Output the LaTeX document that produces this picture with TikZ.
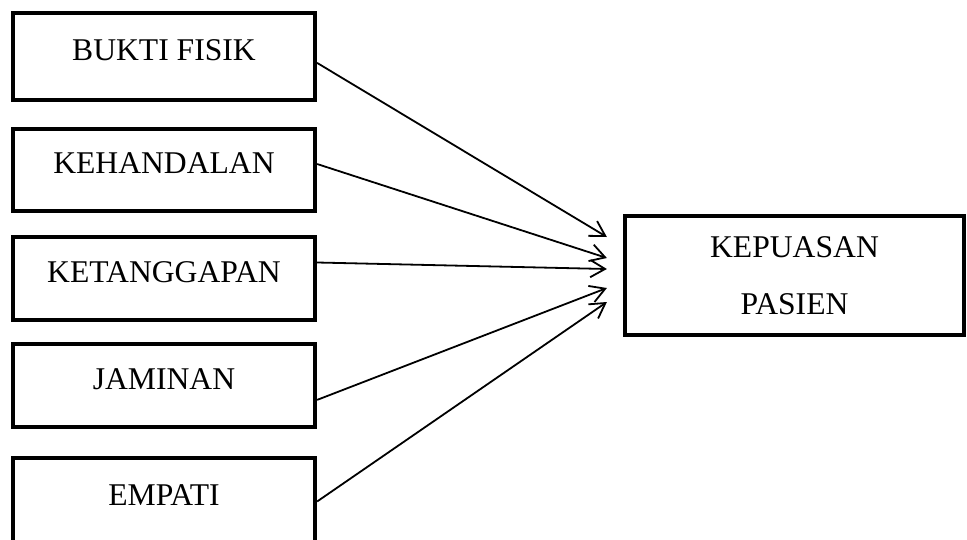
\documentclass[tikz,border=0pt]{standalone}
\usepackage{fontspec}
\setmainfont{Liberation Serif}
\usetikzlibrary{arrows.meta,positioning}

\begin{document}
\begin{tikzpicture}[x=0.25mm,y=-0.25mm,
                factor/.style={draw=black, line width=1.05mm, minimum width=302*0.25mm,
                    text height=4mm, text depth=2.25mm, inner sep=0pt,
                    font=\fontsize{22.5}{27}\selectfont},
                hasil/.style={factor, minimum width=339*0.25mm, minimum height=119*0.25mm,
                    align=center, text height=, text depth=},
                pengaruh/.style={black, line width=0.45mm,
                    -{Straight Barb[length=3.7mm,width=4.3mm,line width=0.45mm]}}]
                \useasboundingbox (0,0) rectangle (967,539);
                % variabel bebas
                \node [factor, minimum height=87*0.25mm] (fisik) at (164,56.5) {BUKTI FISIK};
                \node [factor, minimum height=82*0.25mm] (handal) at (164,170) {KEHANDALAN};
                \node [factor, minimum height=83*0.25mm] (tanggap) at (164,278.5) {KETANGGAPAN};
                \node [factor, minimum height=83*0.25mm] (jamin) at (164,385.5) {JAMINAN};
                \node [factor, minimum height=87*0.25mm] (empati) at (164,501.5) {EMPATI};
                % variabel terikat
                \node [hasil] (puas) at (794.5,275.5) {KEPUASAN\\[4.6mm]PASIEN};
                \coordinate (t1) at ([shift={(-16,-38.5)}]puas.west);
                \coordinate (t2) at ([shift={(-16,-17.5)}]puas.west);
                \coordinate (t3) at ([shift={(-16,-6.5)}]puas.west);
                \coordinate (t4) at ([shift={(-16,12.5)}]puas.west);
                \coordinate (t5) at ([shift={(-16,26.5)}]puas.west);
                \draw [pengaruh] ([yshift=-1.6mm]fisik.east) -- (t1);
                \draw [pengaruh] ([yshift=1.5mm]handal.east) -- (t2);
                \draw [pengaruh] ([yshift=4mm]tanggap.east) -- (t3);
                \draw [pengaruh] ([yshift=-3.6mm]jamin.east) -- (t4);
                \draw [pengaruh] (empati.east) -- (t5);
\end{tikzpicture}
\end{document}
